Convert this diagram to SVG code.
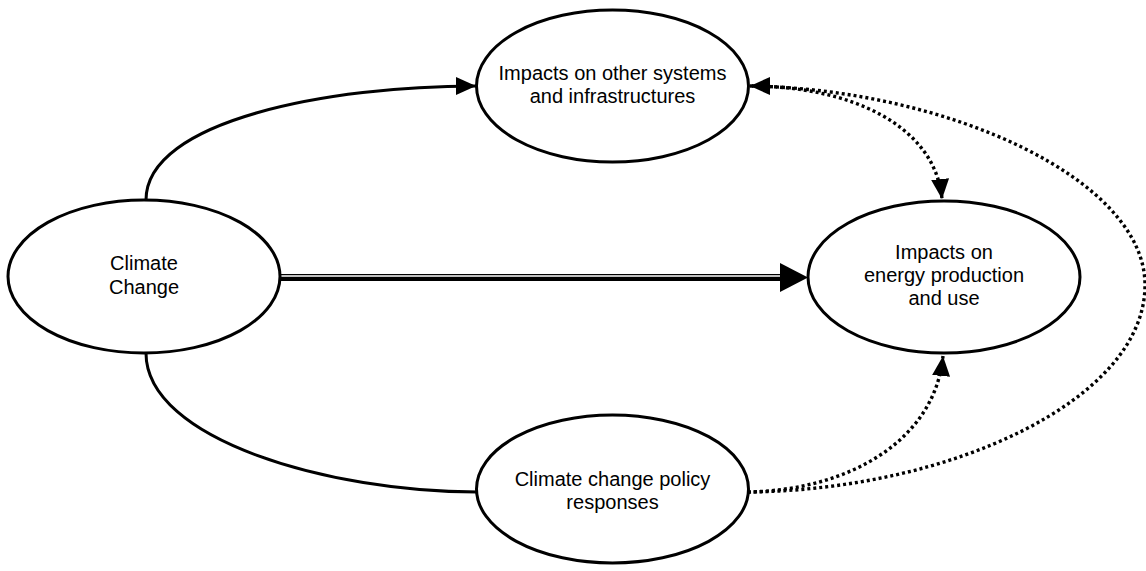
<svg xmlns="http://www.w3.org/2000/svg" width="1146" height="571" viewBox="0 0 1146 571">
  <style>
    .node ellipse { fill: #fff; stroke: #000; stroke-width: 3; }
    .node text { font-family: "Liberation Sans", Arial, sans-serif; font-size: 20px; fill: #000; text-anchor: middle; }
    .solid { fill: none; stroke: #000; stroke-width: 3; }
    .dotted { fill: none; stroke: #000; stroke-width: 3.4; stroke-dasharray: 3 3; }
  </style>
  <defs>
    <marker id="arr" viewBox="0 0 20 18" refX="20" refY="9" markerWidth="20" markerHeight="18" markerUnits="userSpaceOnUse" orient="auto-start-reverse">
      <path d="M0,0 L20,9 L0,18 Z" fill="#000"/>
    </marker>
  </defs>

  <g id="connectors">
    <path class="solid" d="M146,200 C146,120 330,86 476,86" marker-end="url(#arr)"/>
    <path class="solid" d="M146,353 C146,440 330,492 477,492"/>
    <g id="double-arrow">
      <line x1="281" y1="277.5" x2="788" y2="277.5" stroke="#000" stroke-width="7"/>
      <line x1="281" y1="276" x2="784" y2="276" stroke="#fff" stroke-width="1.4"/>
      <path d="M780,263 L808,277.5 L780,292 Z" fill="#000"/>
    </g>
    <path class="dotted" d="M750,86 C850,86 935,125 942,199" marker-start="url(#arr)" marker-end="url(#arr)"/>
    <path class="dotted" d="M752,86 C950,90 1145,180 1145,285 C1145,400 950,490 748,492"/>
    <path class="dotted" d="M748,492 C850,490 935,440 943,356" marker-end="url(#arr)"/>
  </g>

  <g id="climate-change" class="node">
    <ellipse cx="144" cy="276.5" rx="136" ry="76.5"/>
    <text x="144" y="270">Climate</text>
    <text x="144" y="294">Change</text>
  </g>

  <g id="impacts-other" class="node">
    <ellipse cx="612.5" cy="86" rx="136" ry="76"/>
    <text x="612.5" y="80">Impacts on other systems</text>
    <text x="612.5" y="103">and infrastructures</text>
  </g>

  <g id="impacts-energy" class="node">
    <ellipse cx="944" cy="277" rx="136" ry="76"/>
    <text x="944" y="259">Impacts on</text>
    <text x="944" y="282">energy production</text>
    <text x="944" y="305">and use</text>
  </g>

  <g id="policy-responses" class="node">
    <ellipse cx="612.5" cy="489" rx="136" ry="74"/>
    <text x="612.5" y="486">Climate change policy</text>
    <text x="612.5" y="509">responses</text>
  </g>
</svg>
